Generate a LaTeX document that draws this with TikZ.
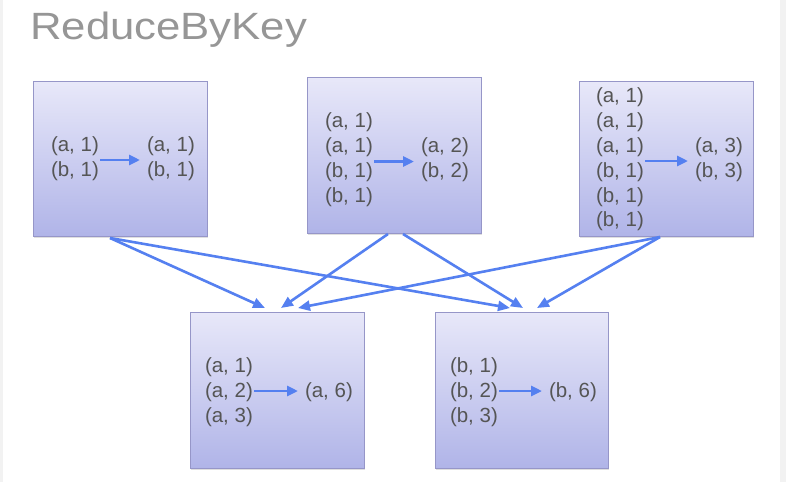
\documentclass[tikz,border=0pt]{standalone}
\usepackage{fontspec}
\setmainfont{Liberation Sans}
\usetikzlibrary{arrows.meta,shadows,calc}
\definecolor{txt}{RGB}{85,85,85}
\definecolor{ttl}{RGB}{150,150,150}
\definecolor{arr}{RGB}{85,128,240}
\definecolor{boxtop}{RGB}{232,232,249}
\definecolor{boxbot}{RGB}{176,180,232}
\definecolor{boxedge}{RGB}{150,150,200}
\definecolor{strip}{RGB}{242,242,242}
\tikzset{
  x=1pt,y=-1pt,
  pbox/.style={draw=boxedge,line width=0.8pt,top color=boxtop,bottom color=boxbot,
    drop shadow={shadow xshift=1pt,shadow yshift=-2pt,opacity=0.25},
    inner sep=0pt,outer sep=0pt},
  col/.style={anchor=west,inner sep=0pt,outer sep=0pt,text=txt,align=left,
    font=\fontsize{20.5}{24.8}\selectfont},
  inarr/.style={draw=arr,line width=2.8pt,-{Triangle[length=11pt,width=10pt]},
    shorten <=1.5pt,shorten >=7pt},
  bigarr/.style={draw=arr,line width=2.6pt,-{Triangle[length=12pt,width=10pt]}}
}
\begin{document}
\begin{tikzpicture}
\useasboundingbox (0,0) rectangle (786,482);
\fill[white] (0,0) rectangle (786,482);
\fill[strip] (780,0) rectangle (786,482);
\fill[strip] (0,0) rectangle (3,482);

\node[anchor=base west,inner sep=0pt,text=ttl,font=\fontsize{38}{42}\selectfont] (title) at (30,39.5) {\scalebox{1.15}[1]{ReduceByKey}};

% boxes
\node[pbox,minimum width=174pt,minimum height=155pt] (b1) at (120,158.5) {};
\node[pbox,minimum width=174pt,minimum height=156pt] (b2) at (394,155) {};
\node[pbox,minimum width=174pt,minimum height=155pt] (b3) at (666,158.5) {};
\node[pbox,minimum width=174pt,minimum height=156pt] (b4) at (277,390) {};
\node[pbox,minimum width=173pt,minimum height=156pt] (b5) at (521.5,390) {};

% texts
\node[col] (l1) at (51,159) {(a, 1)\\(b, 1)};
\node[col] (r1) at (147,159) {(a, 1)\\(b, 1)};
\node[col] (l2) at (325,159.5) {(a, 1)\\(a, 1)\\(b, 1)\\(b, 1)};
\node[col] (r2) at (421,159.5) {(a, 2)\\(b, 2)};
\node[col] (l3) at (596,159.5) {(a, 1)\\(a, 1)\\(a, 1)\\(b, 1)\\(b, 1)\\(b, 1)};
\node[col] (r3) at (695,159.5) {(a, 3)\\(b, 3)};
\node[col] (l4) at (205,392) {(a, 1)\\(a, 2)\\(a, 3)};
\node[col] (r4) at (305,392) {(a, 6)};
\node[col] (l5) at (450,392) {(b, 1)\\(b, 2)\\(b, 3)};
\node[col] (r5) at (549,392) {(b, 6)};

% inner arrows
\draw[inarr] ([yshift=-1pt]l1.east) -- ([yshift=-1pt]l1.east -| r1.west);
\draw[inarr] ([yshift=-2pt]l2.east) -- ([yshift=-2pt]l2.east -| r2.west);
\draw[inarr] ([yshift=-1.5pt]l3.east) -- ([yshift=-1.5pt]l3.east -| r3.west);
\draw[inarr] ([yshift=1pt]l4.east) -- ([yshift=1pt]l4.east -| r4.west);
\draw[inarr] ([yshift=1pt]l5.east) -- ([yshift=1pt]l5.east -| r5.west);

% shuffle arrows
\draw[bigarr] ([xshift=77pt,yshift=-2pt]b1.south west) -- ([xshift=75pt,yshift=4pt]b4.north west);
\draw[bigarr] ([xshift=77pt,yshift=-2pt]b1.south west) -- ([xshift=75pt,yshift=4pt]b5.north west);
\draw[bigarr] ([xshift=81pt,yshift=-1pt]b2.south west) -- ([xshift=91pt,yshift=4pt]b4.north west);
\draw[bigarr] ([xshift=96pt,yshift=-1pt]b2.south west) -- ([xshift=88pt,yshift=4pt]b5.north west);
\draw[bigarr] ([xshift=81pt,yshift=-1pt]b3.south west) -- ([xshift=108pt,yshift=4pt]b4.north west);
\draw[bigarr] ([xshift=81pt,yshift=-1pt]b3.south west) -- ([xshift=102pt,yshift=4pt]b5.north west);
\end{tikzpicture}
\end{document}
